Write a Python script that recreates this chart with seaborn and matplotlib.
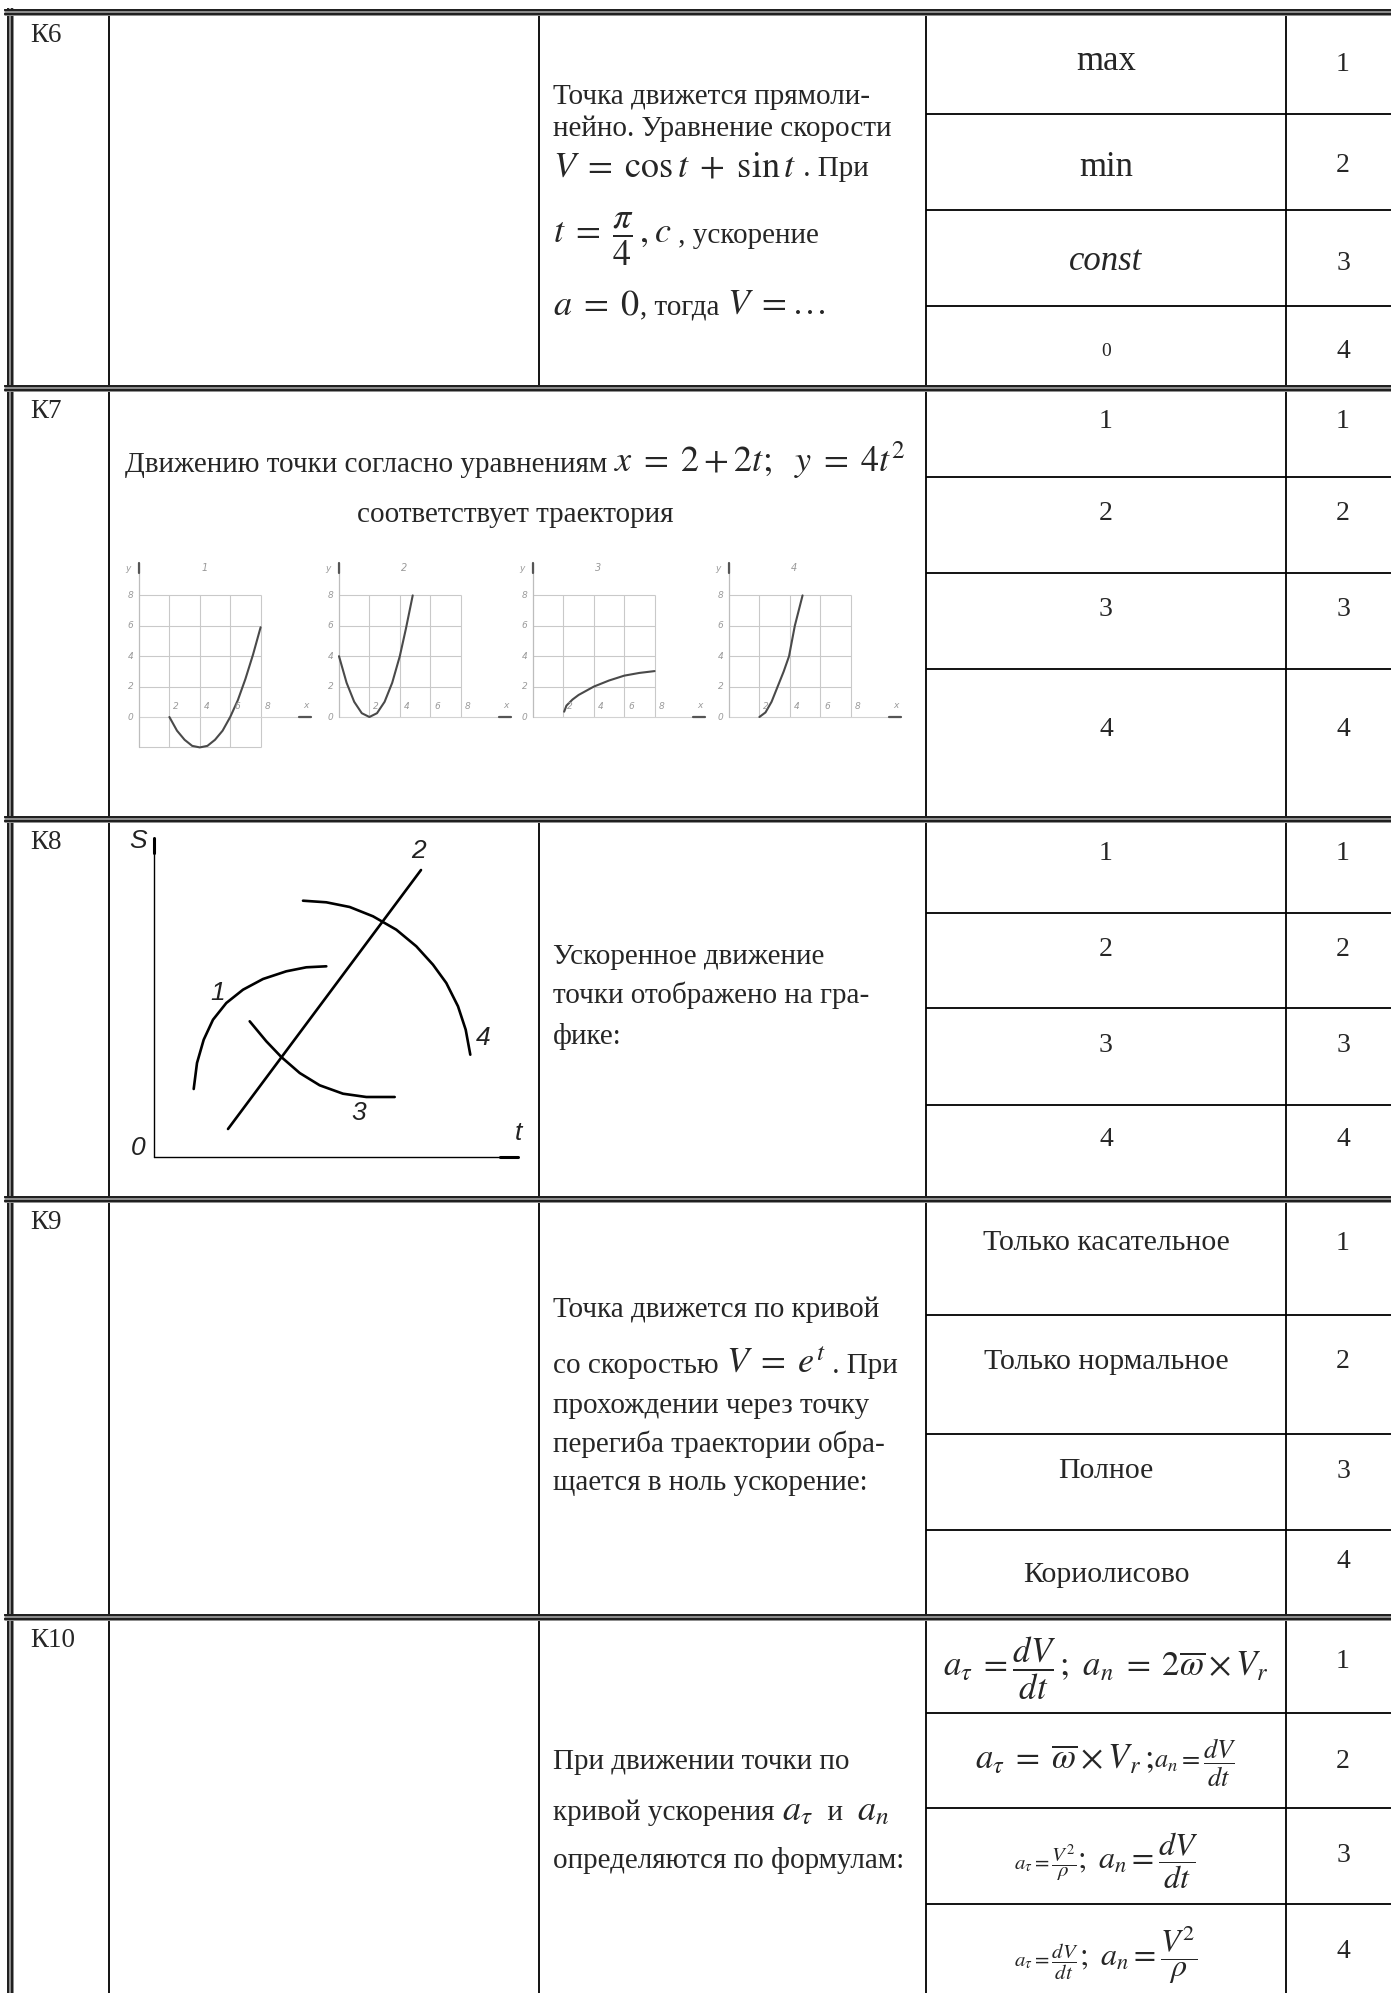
import matplotlib
matplotlib.use("Agg")
import matplotlib.pyplot as plt
import seaborn as sns

sns.set_style("white")
plt.rcParams["font.family"] = ["Liberation Serif", "DejaVu Serif"]
plt.rcParams["mathtext.fontset"] = "stix"

W, H = 1391, 1993

# ---- data ----
row_ids = ["К6", "К7", "К8", "К9", "К10"]
answer_nums = ["1", "2", "3", "4"]
k6_answers = ["max", "min", "const", "0"]
k7_answers = ["1", "2", "3", "4"]
k8_answers = ["1", "2", "3", "4"]
k9_answers = ["Только касательное", "Только нормальное", "Полное", "Кориолисово"]

T = 21  # body text size
M = 26  # inline maths size
k6_lines = [
    [("Точка движется прямоли-", T)],
    [("нейно. Уравнение скорости", T)],
    [(r"$V\;=\;\cos t\;+\;\sin t$", M), (" . При", T)],
    [(r"$t\;=\;\dfrac{\pi}{4}\,,c$", M), (" , ускорение", T)],
    [(r"$a\;=\;0$", M), (", тогда ", T), (r"$V\;=\ldots$", M)],
]
k7_lines = [
    [("Движению точки согласно уравнениям ", T), (r"$x\;=\;2+2t;\ \ y\;=\;4t^{2}$", M)],
    [("соответствует траектория", T)],
]
k8_lines = [
    [("Ускоренное движение", T)],
    [("точки отображено на гра-", T)],
    [("фике:", T)],
]
k9_lines = [
    [("Точка движется по кривой", T)],
    [("со скоростью ", T), (r"$V\;=\;e^{t}$", M), (" . При", T)],
    [("прохождении через точку", T)],
    [("перегиба траектории обра-", T)],
    [("щается в ноль ускорение:", T)],
]
k10_lines = [
    [("При движении точки по", T)],
    [("кривой ускорения ", T), (r"$a_{\tau}$", M), ("  и  ", T), (r"$a_{n}$", M)],
    [("определяются по формулам:", T)],
]
k10_answers = [
    [(r"$a_{\tau}\;=\dfrac{dV}{dt}\,;\ a_{n}\;=\;2\overline{\omega}\times V_{r}$", 25)],
    [(r"$a_{\tau}\;=\;\overline{\omega}\times V_{r}\,;\ $", 25), (r"$a_{n}=\dfrac{dV}{dt}$", 19)],
    [(r"$a_{\tau}=\dfrac{V^{2}}{\rho}$", 15), (r"$;\ a_{n}=\dfrac{dV}{dt}$", 23)],
    [(r"$a_{\tau}=\dfrac{dV}{dt}$", 15), (r"$;\ a_{n}=\dfrac{V^{2}}{\rho}$", 23)],
]

# K7 trajectories (x, y)
traj_x = [
    [2, 2.5, 3, 3.5, 4, 4.5, 5, 5.5, 6, 6.5, 7, 7.5, 8],
    [0, 0.5, 1, 1.5, 2, 2.5, 3, 3.5, 4, 4.4, 4.85],
    [2.05, 2.2, 2.6, 3, 4, 5, 6, 7, 8],
    [2, 2.4, 2.8, 3.2, 3.6, 3.95, 4.33, 4.84],
]
traj_y = [
    [0, -0.9, -1.5, -1.9, -2, -1.9, -1.5, -0.9, 0, 1.1, 2.5, 4.1, 5.9],
    [4, 2.25, 1, 0.25, 0, 0.25, 1, 2.25, 4, 5.8, 8],
    [0.35, 0.75, 1.15, 1.45, 2.0, 2.4, 2.72, 2.9, 3.02],
    [0, 0.3, 1.0, 2.0, 3.0, 4.0, 6.0, 8.0],
]
grid_ticks = [2, 4, 6, 8]

# K8 S(t) graphs
s_line_t = [74, 267]
s_line_s = [28, 287]
s1_t = [39.7, 43, 49.7, 59, 72.3, 89, 109, 132.3, 152.3, 172.3]
s1_s = [68, 94, 117.3, 137.3, 154, 167.3, 178, 185.7, 189.7, 190.7]
s3_t = [95.7, 112.3, 127.3, 145.7, 165.7, 189, 212.3, 240.7]
s3_s = [135.7, 115.7, 100, 84, 71.7, 63.3, 60, 60]
s4_t = [149, 172.3, 195.7, 219, 242.3, 262.3, 279, 292.3, 304, 311.7, 316.3]
s4_s = [256.3, 254.7, 250, 240.7, 227.3, 210.7, 192.3, 174, 150.7, 127.3, 102.3]

# ---- layout ----
row_tops = [12, 388, 819, 1199, 1617]
col_x = [109, 539, 926, 1286]
sub_lines = [114, 210, 306, 477, 573, 669, 913, 1008, 1105,
             1315, 1434, 1530, 1713, 1808, 1904]
ans_cx, num_cx = 1106, 1343

fig = plt.figure(figsize=(W / 100, H / 100), dpi=100)
ax = fig.add_axes([0, 0, 1, 1])
ax.set_xlim(0, W)
ax.set_ylim(H, 0)
ax.axis("off")
renderer = fig.canvas.get_renderer()


def double_h(y, x0=4, x1=W):
    ax.plot([x0, x1], [y, y], color="#8c8c8c", lw=5.0, solid_capstyle="butt")
    for d in (-2.2, 2.2):
        ax.plot([x0, x1], [y + d, y + d], color="black", lw=1.1, solid_capstyle="butt")


def double_v(x, y0=8, y1=H):
    ax.plot([x, x], [y0, y1], color="#8c8c8c", lw=5.0, solid_capstyle="butt")
    for d in (-2.2, 2.2):
        ax.plot([x + d, x + d], [y0, y1], color="black", lw=1.1, solid_capstyle="butt")


def line(xs, ys, lw=1.3):
    ax.plot(xs, ys, color="black", lw=lw, solid_capstyle="butt")


def put_runs(x, y, runs, ha="left", style="normal"):
    items, cx = [], x
    for s, size in runs:
        t = ax.text(cx, y, s, fontsize=size, fontstyle=style, va="baseline", ha="left")
        cx += t.get_window_extent(renderer).width
        items.append(t)
    if ha == "center":
        shift = (cx - x) / 2
        for t in items:
            px, py = t.get_position()
            t.set_position((px - shift, py))


# table lines
line([col_x[0]] * 2, [12, H])
line([col_x[2]] * 2, [12, H])
line([col_x[3]] * 2, [12, H])
line([col_x[1]] * 2, [12, row_tops[1]])
line([col_x[1]] * 2, [row_tops[2], H])
for y in sub_lines:
    line([col_x[2], W], [y, y])
double_v(10)
for y in row_tops:
    double_h(y)

# row ids
for rid, top in zip(row_ids, row_tops):
    ax.text(30, top + 30, rid, fontsize=19.5, va="baseline", ha="left")

# question texts
for lines, x, ys, ha in [
    (k6_lines, 553, [104, 136, 176, 243, 314], "left"),
    (k7_lines, 515, [472, 522], "center"),
    (k8_lines, 553, [964, 1003, 1044], "left"),
    (k9_lines, 553, [1317, 1373, 1413, 1452, 1490], "left"),
    (k10_lines, 553, [1769, 1820, 1868], "left"),
]:
    for runs, y in zip(lines, ys):
        put_runs(x, y, runs, ha=ha)

# answers
k6_y = [61, 167, 261, 351]
k6_num_y = [64, 165, 263, 351]
k6_sizes = [25, 25, 25, 14]
k6_styles = ["normal", "normal", "italic", "normal"]
for a, y, s, st in zip(k6_answers, k6_y, k6_sizes, k6_styles):
    ax.text(ans_cx, y, a, fontsize=s, fontstyle=st, ha="center", va="center")
for n, y in zip(answer_nums, k6_num_y):
    ax.text(num_cx, y, n, fontsize=20, ha="center", va="center")

for answers, ys, nys in [
    (k7_answers, [421, 514, 609, 730], [421, 514, 609, 730]),
    (k8_answers, [853, 949, 1045, 1139], [853, 949, 1045, 1139]),
    (k9_answers, [1243, 1362, 1471, 1575], [1243, 1362, 1471, 1561]),
]:
    size = 21.5 if answers is k9_answers else 20
    for a, y in zip(answers, ys):
        ax.text(ans_cx, y, a, fontsize=size, ha="center", va="center")
    for n, y in zip(answer_nums, nys):
        ax.text(num_cx, y, n, fontsize=20, ha="center", va="center")

for runs, y in zip(k10_answers, [1676, 1769, 1869, 1966]):
    put_runs(ans_cx, y, runs, ha="center")
for n, y in zip(answer_nums, [1662, 1761, 1856, 1952]):
    ax.text(num_cx, y, n, fontsize=20, ha="center", va="center")


def px_axes(x0, y0, x1, y1):
    a = fig.add_axes([x0 / W, 1 - y1 / H, (x1 - x0) / W, (y1 - y0) / H])
    a.patch.set_alpha(0)
    a.axis("off")
    return a


# K7 small trajectory graphs
unit = 15.2
origins = [(139, 717), (339, 717), (533, 717), (729, 717)]
xl, yl = (-1.5, 11.8), (-2.6, 10.6)
gcol, lcol = "#c9c9c9", "#9a9a9a"
for i, (ox, oy) in enumerate(origins):
    g = px_axes(ox + xl[0] * unit, oy - yl[1] * unit, ox + xl[1] * unit, oy - yl[0] * unit)
    g.set_xlim(*xl)
    g.set_ylim(*yl)
    ybot = -2 if i == 0 else 0
    g.vlines(grid_ticks, ybot, 8, color=gcol, lw=0.8)
    hl = grid_ticks + ([-2] if i == 0 else [])
    g.hlines(hl, 0, 8, color=gcol, lw=0.8)
    g.plot([0, 11.3], [0, 0], color="#d2d2d2", lw=0.8)
    g.plot([10.5, 11.3], [0, 0], color="#555555", lw=1.6)
    g.plot([0, 0], [ybot, 10.1], color="#bdbdbd", lw=0.9)
    g.plot([0, 0], [9.5, 10.1], color="#555555", lw=1.6)
    sns.lineplot(x=traj_x[i], y=traj_y[i], ax=g, color="#4a4a4a", lw=1.5,
                 sort=False, estimator=None, legend=False)
    g.set_xlim(*xl)
    g.set_ylim(*yl)
    g.axis("off")
    for v in [0, 2, 4, 6, 8]:
        g.text(-0.55, v, str(v), fontsize=6.5, color=lcol, style="italic",
               ha="center", va="center", family="DejaVu Sans")
    for v in grid_ticks:
        g.text(v + 0.45, 0.7, str(v), fontsize=6.5, color=lcol, style="italic",
               ha="center", va="center", family="DejaVu Sans")
    g.text(-0.7, 9.8, "y", fontsize=6.5, color=lcol, style="italic",
           ha="center", va="center", family="DejaVu Sans")
    g.text(11.0, 0.75, "x", fontsize=6.5, color=lcol, style="italic",
           ha="center", va="center", family="DejaVu Sans")
    g.text(4.3, 9.8, answer_nums[i], fontsize=7, color=lcol, style="italic",
           ha="center", va="center", family="DejaVu Sans")

# K8 S(t) graph
k = px_axes(110, 824, 538, 1196)
k.set_xlim(-44, 384)
k.set_ylim(-39, 333)
k.plot([0, 0], [0, 319], color="black", lw=1.0)
k.plot([0, 0], [304, 319], color="black", lw=2.2)
k.plot([0, 364], [0, 0], color="black", lw=1.0)
k.plot([346, 364], [0, 0], color="black", lw=2.2)
for ts, ss in [(s_line_t, s_line_s), (s1_t, s1_s), (s3_t, s3_s), (s4_t, s4_s)]:
    sns.lineplot(x=ts, y=ss, ax=k, color="black", lw=1.9, sort=False,
                 estimator=None, legend=False)
k.set_xlim(-44, 384)
k.set_ylim(-39, 333)
k.axis("off")
lab = dict(fontsize=19, style="italic", ha="center", va="center",
           family=["Liberation Sans Narrow", "Liberation Sans"], color="#222222")
k.text(64, 164, "1", **lab)
k.text(264, 306, "2", **lab)
k.text(205, 44, "3", **lab)
k.text(329, 119, "4", **lab)
k.text(-16, 316, "S", **lab)
k.text(-16, 9, "0", **lab)
k.text(364, 24, "t", **lab)

fig.savefig("out.png", dpi=100)
